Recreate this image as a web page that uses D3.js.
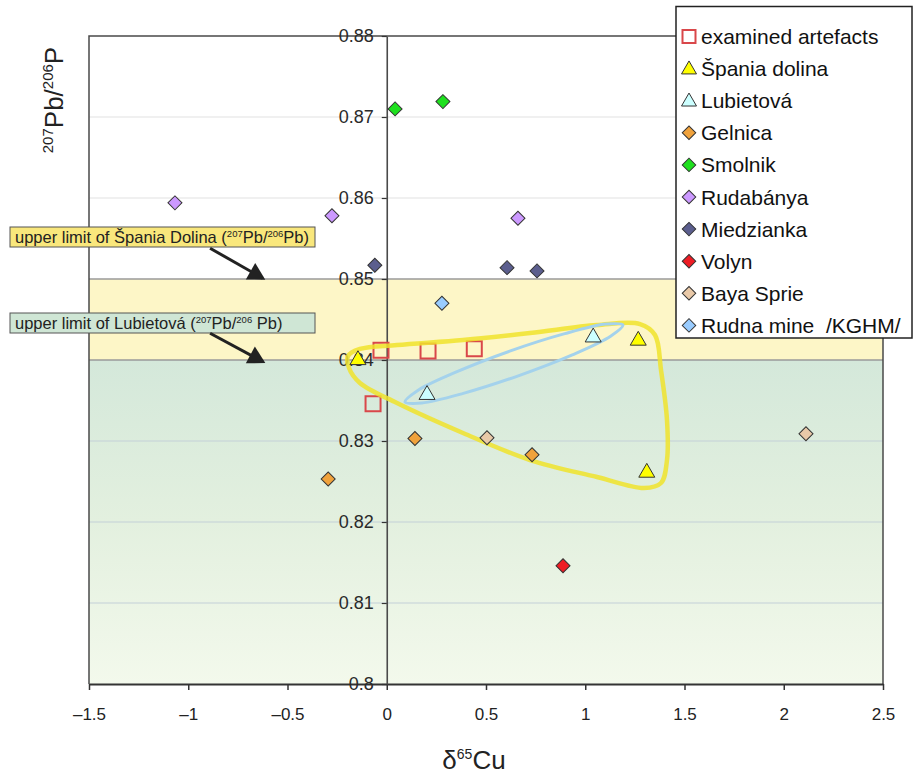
<!DOCTYPE html>
<html>
<head>
<meta charset="utf-8">
<script src="https://cdn.jsdelivr.net/npm/d3@7"></script>
<style>
  html, body { margin: 0; padding: 0; background: #fff; }
  svg { display: block; font-family: "Liberation Sans", Arial, sans-serif; }
</style>
</head>
<body>
<svg id="chart" width="913" height="776"></svg>
<script>
// ---------------- DATA ----------------
const xTicks = [-1.5, -1, -0.5, 0, 0.5, 1, 1.5, 2, 2.5];
const xTickLabels = ["–1.5", "–1", "–0.5", "0", "0.5", "1", "1.5", "2", "2.5"];
const yTicks = [0.8, 0.81, 0.82, 0.83, 0.84, 0.85, 0.86, 0.87, 0.88];
const yTickLabels = ["0.8", "0.81", "0.82", "0.83", "0.84", "0.85", "0.86", "0.87", "0.88"];

const seriesNames = ["examined artefacts", "Špania dolina", "Lubietová", "Gelnica", "Smolnik",
  "Rudabánya", "Miedzianka", "Volyn", "Baya Sprie", "Rudna mine  /KGHM/"];

const artefactsX = [-0.029, 0.208, 0.441, -0.069];
const artefactsY = [0.8412, 0.8411, 0.8414, 0.8346];
const spaniaX = [-0.145, 1.267, 1.31];
const spaniaY = [0.8400, 0.8424, 0.8261];
const lubietovaX = [1.04, 0.203];
const lubietovaY = [0.8428, 0.8357];
const gelnicaX = [0.142, 0.732, -0.295];
const gelnicaY = [0.8303, 0.8283, 0.8253];
const smolnikX = [0.042, 0.283];
const smolnikY = [0.8710, 0.8719];
const rudabanyaX = [-1.067, -0.276, 0.661];
const rudabanyaY = [0.8594, 0.8578, 0.8575];
const miedziankaX = [-0.06, 0.606, 0.757];
const miedziankaY = [0.8517, 0.8514, 0.8510];
const volynX = [0.888];
const volynY = [0.8146];
const bayaX = [0.505, 2.112];
const bayaY = [0.8304, 0.8309];
const rudnaX = [0.278];
const rudnaY = [0.8470];

// reference levels (bands)
const spaniaUpperLimit = 0.85;
const lubietovaUpperLimit = 0.84;

// hand-drawn outlines (data units)
const spaniaOutlineX = [-0.195, -0.135, 0.0516, 0.384, 0.7217, 1.059, 1.276, 1.3514, 1.3816, 1.4118, 1.4118, 1.3816, 1.296, 1.059, 0.7217, 0.384, 0.0516, -0.135, -0.19];
const spaniaOutlineY = [0.84049, 0.84136, 0.84185, 0.84247, 0.84333, 0.84432, 0.84444, 0.84309, 0.83877, 0.83259, 0.82765, 0.82481, 0.8242, 0.82556, 0.82765, 0.83099, 0.83469, 0.83716, 0.83901];
const lubietovaOutlineX = [1.1902, 1.1277, 0.9348, 0.6627, 0.3856, 0.1766, 0.0919, 0.1544, 0.3479, 0.6194, 0.8970, 1.1055];
const lubietovaOutlineY = [0.84432, 0.84293, 0.84063, 0.83805, 0.83588, 0.83470, 0.83481, 0.83621, 0.83849, 0.84109, 0.84325, 0.84443];

// annotations
const annotationTexts = [
  ["upper limit of Špania Dolina (", "207", "Pb/", "206", "Pb)"],
  ["upper limit of Lubietová (", "207", "Pb/", "206", " Pb)"]
];
const arrowFromX = [-0.89, -0.89];
const arrowFromY = [0.8538, 0.8433];
const arrowToX = [-0.625, -0.625];
const arrowToY = [0.8501, 0.8398];

// ---------------- STYLE / LAYOUT ----------------
const W = 913, H = 776;
const margin = { left: 89, right: 30, top: 36, bottom: 92 };
const font = '"Liberation Sans", Arial, sans-serif';

const styles = [
  { sym: "square", fill: "none", stroke: "#d9474a", sw: 2, size: 15 },
  { sym: "triangle", fill: "#ffff00", stroke: "#333", sw: 1, size: 16 },
  { sym: "triangle", fill: "#ccffff", stroke: "#333", sw: 1, size: 16 },
  { sym: "diamond", fill: "#f0a23c", stroke: "#333", sw: 1, size: 14 },
  { sym: "diamond", fill: "#1ee01e", stroke: "#333", sw: 1, size: 14 },
  { sym: "diamond", fill: "#cc99ff", stroke: "#333", sw: 1, size: 14 },
  { sym: "diamond", fill: "#5b5e8e", stroke: "#333", sw: 1, size: 14 },
  { sym: "diamond", fill: "#ee1c24", stroke: "#333", sw: 1, size: 14 },
  { sym: "diamond", fill: "#e9c9a8", stroke: "#333", sw: 1, size: 14 },
  { sym: "diamond", fill: "#99ccff", stroke: "#333", sw: 1, size: 14 }
];

const seriesX = [artefactsX, spaniaX, lubietovaX, gelnicaX, smolnikX, rudabanyaX, miedziankaX, volynX, bayaX, rudnaX];
const seriesY = [artefactsY, spaniaY, lubietovaY, gelnicaY, smolnikY, rudabanyaY, miedziankaY, volynY, bayaY, rudnaY];

const svg = d3.select("#chart");
const x = d3.scaleLinear().domain([-1.5, 2.5]).range([margin.left, W - margin.right]);
const y = d3.scaleLinear().domain([0.8, 0.88]).range([H - margin.bottom, margin.top]);

// defs
const defs = svg.append("defs");
const grad = defs.append("linearGradient").attr("id", "greenGrad")
  .attr("x1", 0).attr("y1", 0).attr("x2", 0).attr("y2", 1);
grad.append("stop").attr("offset", "0%").attr("stop-color", "#d4e8da");
grad.append("stop").attr("offset", "50%").attr("stop-color", "#e3f0df");
grad.append("stop").attr("offset", "100%").attr("stop-color", "#f3f9ec");
defs.append("marker").attr("id", "arrowHead")
  .attr("markerUnits", "userSpaceOnUse")
  .attr("markerWidth", 24).attr("markerHeight", 24)
  .attr("viewBox", "-2 -12 24 24")
  .attr("refX", 14).attr("refY", 0)
  .attr("orient", "auto")
  .append("path").attr("d", "M0,-9.5 L17,0 L0,9.5 Z").attr("fill", "#222");

// bands
svg.append("rect")
  .attr("x", x(-1.5)).attr("width", x(2.5) - x(-1.5))
  .attr("y", y(spaniaUpperLimit)).attr("height", y(lubietovaUpperLimit) - y(spaniaUpperLimit))
  .attr("fill", "#fdf6c7");
svg.append("rect")
  .attr("x", x(-1.5)).attr("width", x(2.5) - x(-1.5))
  .attr("y", y(lubietovaUpperLimit)).attr("height", y(0.8) - y(lubietovaUpperLimit))
  .attr("fill", "url(#greenGrad)");

// gridlines
svg.append("g").selectAll("line").data(yTicks.filter(d => d > 0.8 && d < 0.88)).join("line")
  .attr("x1", x(-1.5)).attr("x2", x(2.5))
  .attr("y1", d => y(d)).attr("y2", d => y(d))
  .attr("stroke", d => (d === 0.84 || d === 0.85) ? "#9a9a9a" : (d < 0.84 ? "#c3cfd8" : "#e2e2e2"))
  .attr("stroke-width", d => (d === 0.84 || d === 0.85) ? 1.5 : 1.2);

// plot frame (top, left, right)
svg.append("path")
  .attr("d", `M${x(-1.5)},${y(0.8)} V${y(0.88)} H${x(2.5)} V${y(0.8)}`)
  .attr("fill", "none").attr("stroke", "#4a4a4a").attr("stroke-width", 1.5);

// x axis
const xAxis = svg.append("g").attr("transform", `translate(0,${y(0.8)})`)
  .call(d3.axisBottom(x).tickValues(xTicks).tickFormat((d, i) => xTickLabels[i])
    .tickSize(6).tickSizeOuter(0).tickPadding(18));
xAxis.select(".domain").attr("stroke", "#333").attr("stroke-width", 2);
xAxis.selectAll(".tick line").attr("stroke", "#333").attr("stroke-width", 1.5);
xAxis.selectAll(".tick text").attr("font-family", font).attr("font-size", 17).attr("fill", "#222");

// y axis at x = 0
const yAxis = svg.append("g").attr("transform", `translate(${x(0)},0)`)
  .call(d3.axisLeft(y).tickValues(yTicks).tickFormat((d, i) => yTickLabels[i])
    .tickSize(5).tickSizeOuter(0).tickPadding(8));
yAxis.select(".domain").attr("stroke", "#4a4a4a").attr("stroke-width", 1.6);
yAxis.selectAll(".tick line").attr("stroke", "#333").attr("stroke-width", 1.2);
yAxis.selectAll(".tick text").attr("font-family", font).attr("font-size", 18).attr("fill", "#2a2a2a");

// symbol helper
function symPath(sym, size) {
  if (sym === "square") return d3.symbol(d3.symbolSquare, size * size)();
  if (sym === "diamond") return d3.symbol(d3.symbolSquare, (size * size) / 2)();
  const yy = size / (2 * Math.sqrt(3));
  return d3.symbol(d3.symbolTriangle, yy * yy * 3 * Math.sqrt(3))();
}
function drawSeries(g, i) {
  const st = styles[i];
  const pts = seriesX[i].map((v, k) => [v, seriesY[i][k]]);
  g.selectAll(null).data(pts).join("path")
    .attr("d", symPath(st.sym, st.size))
    .attr("transform", d => `translate(${x(d[0])},${y(d[1])})` + (st.sym === "diamond" ? " rotate(45)" : ""))
    .attr("fill", st.fill).attr("stroke", st.stroke).attr("stroke-width", st.sw);
}

// artefacts first (under outlines)
const marks = svg.append("g");
drawSeries(marks.append("g"), 0);

// outlines
const outline = d3.line().x(d => x(d[0])).y(d => y(d[1])).curve(d3.curveCatmullRomClosed.alpha(0.5));
svg.append("path")
  .attr("d", outline(spaniaOutlineX.map((v, k) => [v, spaniaOutlineY[k]])))
  .attr("fill", "none").attr("stroke", "#f0e32c").attr("stroke-width", 4.5).attr("stroke-opacity", 0.85);
svg.append("path")
  .attr("d", outline(lubietovaOutlineX.map((v, k) => [v, lubietovaOutlineY[k]])))
  .attr("fill", "none").attr("stroke", "#a4d2ec").attr("stroke-width", 3);

// other markers
const marks2 = svg.append("g");
for (let i = 1; i < seriesNames.length; i++) drawSeries(marks2.append("g"), i);

// annotations (boxes + arrows)
const boxFill = ["#f9e77c", "#cfe6d5"];
const boxTop = [227, 313];
annotationTexts.forEach((parts, i) => {
  const g = svg.append("g");
  g.append("rect").attr("x", 10).attr("y", boxTop[i]).attr("width", 305).attr("height", 20)
    .attr("fill", boxFill[i]).attr("stroke", "#555").attr("stroke-width", 1);
  const t = g.append("text").attr("x", 15).attr("y", boxTop[i] + 16)
    .attr("font-family", font).attr("font-size", 16.5).attr("fill", "#222");
  t.append("tspan").text(parts[0]);
  t.append("tspan").attr("dy", -6).attr("font-size", 9.5).text(parts[1]);
  t.append("tspan").attr("dy", 6).text(parts[2]);
  t.append("tspan").attr("dy", -6).attr("font-size", 9.5).text(parts[3]);
  t.append("tspan").attr("dy", 6).text(parts[4]);
  svg.append("line")
    .attr("x1", x(arrowFromX[i])).attr("y1", y(arrowFromY[i]))
    .attr("x2", x(arrowToX[i])).attr("y2", y(arrowToY[i]))
    .attr("stroke", "#222").attr("stroke-width", 3)
    .attr("marker-end", "url(#arrowHead)");
});

// legend
const lg = svg.append("g");
lg.append("rect").attr("x", 676).attr("y", 6.5).attr("width", 236).attr("height", 331.5)
  .attr("fill", "#fff").attr("stroke", "#222").attr("stroke-width", 1.5);
seriesNames.forEach((name, i) => {
  const cy = 36.5 + i * 32.1;
  const st = styles[i];
  const lsize = st.sym === "square" ? 13 : (st.sym === "triangle" ? 15 : 13.5);
  lg.append("path").attr("d", symPath(st.sym, lsize))
    .attr("transform", `translate(689,${cy + (st.sym === "triangle" ? 1 : 0)})` + (st.sym === "diamond" ? " rotate(45)" : ""))
    .attr("fill", st.fill).attr("stroke", st.stroke).attr("stroke-width", st.sw);
  lg.append("text").attr("x", 701).attr("y", cy + 7.5)
    .attr("font-family", font).attr("font-size", 21).attr("fill", "#111")
    .attr("xml:space", "preserve").style("white-space", "pre").text(name);
});

// axis titles
const xt = svg.append("text").attr("x", 474).attr("y", 769).attr("text-anchor", "middle")
  .attr("font-family", font).attr("font-size", 26).attr("fill", "#222");
xt.append("tspan").text("δ");
xt.append("tspan").attr("dy", -10).attr("font-size", 14).text("65");
xt.append("tspan").attr("dy", 10).text("Cu");

const yt = svg.append("text").attr("transform", "translate(63,100) rotate(-90)")
  .attr("text-anchor", "middle").attr("font-family", font).attr("font-size", 26).attr("fill", "#222");
yt.append("tspan").attr("dy", -10).attr("font-size", 15).text("207");
yt.append("tspan").attr("dy", 10).text("Pb/");
yt.append("tspan").attr("dy", -10).attr("font-size", 15).text("206");
yt.append("tspan").attr("dy", 10).text("P");
</script>
</body>
</html>
